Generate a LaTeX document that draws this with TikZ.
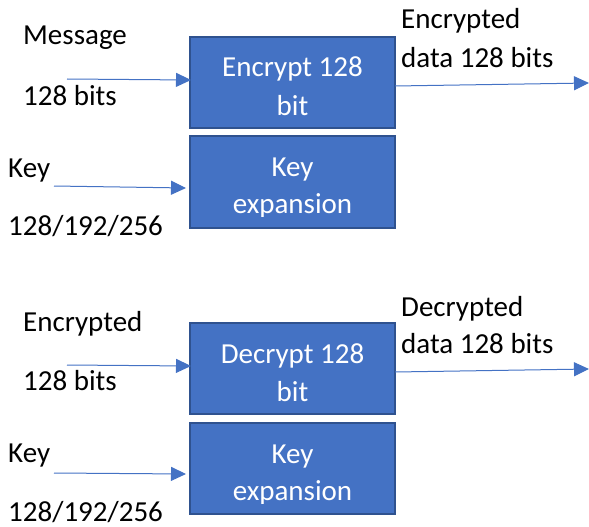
\documentclass[tikz,border=0pt]{standalone}
\usepackage{fontspec}
\setmainfont{Carlito}
\usetikzlibrary{arrows.meta}
\definecolor{boxfill}{HTML}{4472C4}
\definecolor{boxline}{HTML}{2F528F}
\definecolor{arrowc}{HTML}{4472C4}
\tikzset{
  box/.style={draw=boxline, line width=2pt, fill=boxfill, inner sep=0pt},
  boxtext/.style={text=white, anchor=base, inner sep=0pt, font=\fontsize{29}{35}\selectfont},
  lbl/.style={text=black, anchor=base west, inner sep=0pt, font=\fontsize{29}{35}\selectfont},
  arr/.style={draw=arrowc, line width=1pt, -{Triangle[length=15pt,width=14pt]}},
}
\begin{document}
\begin{tikzpicture}[x=1pt,y=-1pt]
\useasboundingbox (0,0) rectangle (589,527);
% ---------- top (encryption) ----------
\node[box, minimum width=205pt, minimum height=91pt] (enc) at (292.5,82.5) {};
\node[box, minimum width=205pt, minimum height=92pt] (kex1) at (292.5,182) {};
\begin{scope}
\clip (enc.north west) rectangle ([yshift=13pt]enc.south east);
\node[boxtext] (enc1) at (292.5,77) {Encrypt 128};
\node[boxtext] (enc2) at (292.5,115) {bit};
\end{scope}
\begin{scope}
\clip (kex1.north west) rectangle ([yshift=13pt]kex1.south east);
\node[boxtext] (kx1a) at (292.5,176) {Key};
\node[boxtext] (kx1b) at (292.5,213) {expansion};
\end{scope}
\node[lbl] (msg) at (23,45) {Message};
\node[lbl] (msgb) at (23,105) {128 bits};
\node[lbl] (key1) at (8,177) {Key};
\node[lbl] (key1b) at (8,235) {128/192/256};
\node[lbl] (out1a) at (401,29) {Encrypted};
\node[lbl] (out1b) at (401,68) {data 128 bits};
\coordinate (m1s) at (67,79);
\coordinate (m1e) at (191,80);
\coordinate (k1s) at (54,186);
\coordinate (k1e) at (186,188);
\coordinate (o1s) at (395,86);
\coordinate (o1e) at (589,83);
\draw[arr] (m1s) -- (m1e);
\draw[arr] (k1s) -- (k1e);
\draw[arr] (o1s) -- (o1e);
% ---------- bottom (decryption) ----------
\node[box, minimum width=205pt, minimum height=91pt] (dec) at (292.5,368.5) {};
\node[box, minimum width=205pt, minimum height=91pt] (kex2) at (292.5,468.5) {};
\begin{scope}
\clip (dec.north west) rectangle ([yshift=13pt]dec.south east);
\node[boxtext] (dec1) at (292.5,363) {Decrypt 128};
\node[boxtext] (dec2) at (292.5,401) {bit};
\end{scope}
\begin{scope}
\clip (kex2.north west) rectangle ([yshift=12pt]kex2.south east);
\node[boxtext] (kx2a) at (292.5,463) {Key};
\node[boxtext] (kx2b) at (292.5,500) {expansion};
\end{scope}
\node[lbl] (enci) at (23,331) {Encrypted};
\node[lbl] (encib) at (23,390) {128 bits};
\node[lbl] (key2) at (8,462) {Key};
\node[lbl] (key2b) at (8,521) {128/192/256};
\node[lbl] (out2a) at (401,316) {Decrypted};
\node[lbl] (out2b) at (401,353) {data 128 bits};
\coordinate (m2s) at (67,365);
\coordinate (m2e) at (191,366);
\coordinate (k2s) at (54,473);
\coordinate (k2e) at (186,474);
\coordinate (o2s) at (395,372);
\coordinate (o2e) at (589,369);
\draw[arr] (m2s) -- (m2e);
\draw[arr] (k2s) -- (k2e);
\draw[arr] (o2s) -- (o2e);
\end{tikzpicture}
\end{document}
